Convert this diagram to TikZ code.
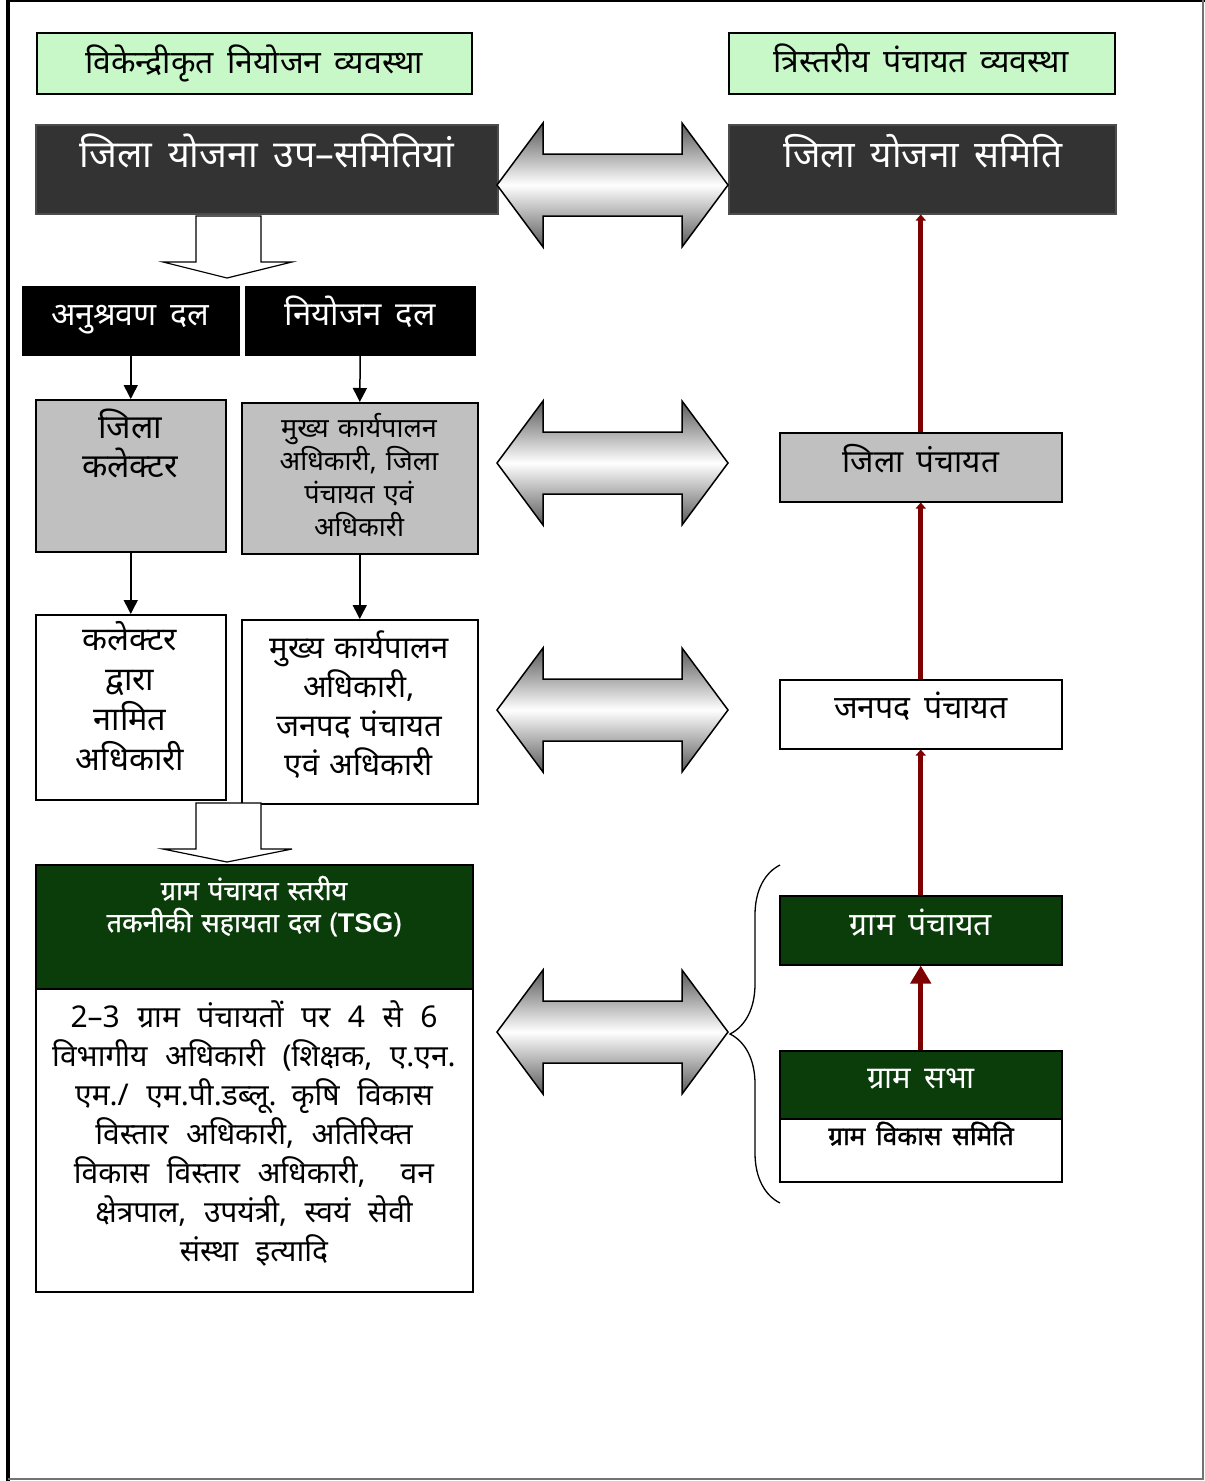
\documentclass[tikz,border=0pt]{standalone}
\usepackage{fontspec}
\setmainfont[Script=Devanagari,WordSpace=1.6]{Noto Sans}
\newfontfamily\devabold[Script=Devanagari,WordSpace=1.6,FakeBold=1.5]{Noto Sans}
\newfontfamily\devasemi[Script=Devanagari,WordSpace=1.6,FakeBold=0.8]{Noto Sans}
\newfontfamily\latinb{Liberation Sans}
\usetikzlibrary{arrows.meta,decorations.pathreplacing}
\definecolor{lgreen}{HTML}{C8F7C8}
\definecolor{dkgray}{HTML}{333333}
\definecolor{mgray}{HTML}{C0C0C0}
\definecolor{dgreen}{HTML}{0B3D0B}
\definecolor{dred}{HTML}{7F0000}
\newcommand\fsz[2]{\fontsize{#1}{#2}\selectfont}
\begin{document}
\begin{tikzpicture}[x=1pt,y=-1pt,
  box/.style={draw=black,line width=1.5pt,inner sep=0pt,anchor=north west},
  txt/.style={anchor=base,inner sep=0pt,align=center},
  mtxt/.style={anchor=base,inner sep=0pt,align=center,text width=#1},
  blk/.style={line width=1.5pt,-{Triangle[width=14pt,length=14pt]}},
  redarr/.style={dred,line width=5pt,-{Triangle[width=20pt,length=18pt]}},
  redfaint/.style={dred,line width=5pt,-{Triangle[width=10pt,length=6pt]}},
  dbl/.style={draw=black,line width=1.5pt,top color=black!65,bottom color=black!65,middle color=white},
  blockarr/.style={draw=black,line width=1.2pt,fill=white}]
\useasboundingbox (0,0) rectangle (1205,1481);
% page frame
\draw[line width=4pt] (8,0) -- (8,1481);
\draw[line width=1.5pt] (8,1) -- (1205,1);
\draw[black!55,line width=2pt] (1203,0) -- (1203,1479) -- (8,1479);

% headings
\node[box,fill=lgreen,minimum width=435pt,minimum height=61pt] (t1) at (36,32) {};
\node[txt,font=\fsz{32}{32}] (t1t) at (254,73) {विकेन्द्रीकृत नियोजन व्यवस्था};
\node[box,fill=lgreen,minimum width=386pt,minimum height=61pt] (t2) at (728,32) {};
\node[txt,font=\fsz{32}{32}] (t2t) at (921,72) {त्रिस्तरीय पंचायत व्यवस्था};

% dark boxes
\node[box,draw=black!70,fill=dkgray,minimum width=462pt,minimum height=89pt] (d1) at (35,124) {};
\node[txt,text=white,font=\fsz{37.5}{38}] (d1t) at (267,167) {जिला योजना उप–समितियां};
\node[box,draw=black!70,fill=dkgray,minimum width=387pt,minimum height=89pt] (d2) at (728,124) {};
\node[txt,text=white,font=\fsz{37}{37}] (d2t) at (923,167) {जिला योजना समिति};

% double arrows
\foreach \c/\n in {185/da1,463/da2,710/da3,1032/da4}{
  \shadedraw[dbl] (497,\c) -- (543,\c-62) -- (543,\c-31) -- (682,\c-31) -- (682,\c-62)
     -- (728,\c) -- (682,\c+62) -- (682,\c+31) -- (543,\c+31) -- (543,\c+62) -- cycle;
}

% block arrow 1
\draw[blockarr] (196,216) -- (261,216) -- (261,262) -- (292,262) -- (227,278) -- (163,262) -- (196,262) -- cycle;

% black boxes
\node[box,draw=black,fill=black,minimum width=216pt,minimum height=68pt] (b1) at (22,286) {};
\node[txt,text=white,font=\fsz{32}{32}] (b1t) at (130,325) {अनुश्रवण दल};
\node[box,draw=black,fill=black,minimum width=229pt,minimum height=68pt] (b2) at (245,286) {};
\node[txt,text=white,font=\fsz{33}{33}] (b2t) at (360,325) {नियोजन दल};

% gray boxes
\node[box,fill=mgray,minimum width=190pt,minimum height=152pt] (g1) at (35,399) {};
\node[mtxt=180pt,font=\fsz{33}{39}] (g1t) at (130,438) {जिला\\कलेक्टर};
\node[box,fill=mgray,minimum width=236pt,minimum height=151pt] (g2) at (241,402) {};
\node[mtxt=230pt,font=\fsz{27}{33}] (g2t) at (359,437) {मुख्य कार्यपालन\\अधिकारी, जिला\\पंचायत एवं\\अधिकारी};

% white boxes
\node[box,fill=white,minimum width=190pt,minimum height=185pt] (w1) at (35,614) {};
\node[mtxt=180pt,font=\fsz{32.5}{40}] (w1t) at (130,650) {कलेक्टर\\द्वारा\\नामित\\अधिकारी};
\node[box,fill=white,minimum width=236pt,minimum height=184pt] (w2) at (241,619) {};
\node[mtxt=230pt,font=\fsz{31}{39}] (w2t) at (359,658) {मुख्य कार्यपालन\\अधिकारी,\\जनपद पंचायत\\एवं अधिकारी};

% connectors left
\draw[blk] (b1.south) -- (g1.north);
\draw[blk] (b2.south) -- (g2.north);
\draw[blk] (g1.south) -- (w1.north);
\draw[blk] (g2.south) -- (w2.north);

% block arrow 2
\draw[blockarr] (196,803) -- (261,803) -- (261,849) -- (292,849) -- (227,862) -- (163,849) -- (196,849) -- cycle;

% TSG
\node[box,fill=dgreen,minimum width=437pt,minimum height=124pt] (tsg) at (35,864) {};
\node[mtxt=420pt,text=white,font=\devasemi\fsz{27}{32}] (tsgt) at (254,900) {ग्राम पंचायत स्तरीय\\तकनीकी सहायता दल ({\latinb\bfseries TSG})};
\node[box,fill=white,minimum width=437pt,minimum height=303pt] (tsgb) at (35,988) {};
\node[mtxt=430pt,font=\fsz{30}{39}] (tsgbt) at (254,1027) {\spaceskip=17.5pt\relax 2–3 ग्राम पंचायतों पर 4 से 6\\विभागीय अधिकारी (शिक्षक, ए.एन.\\एम./ एम.पी.डब्लू. कृषि विकास\\विस्तार अधिकारी, अतिरिक्त\\विकास विस्तार अधिकारी,\ \ वन\\क्षेत्रपाल, उपयंत्री, स्वयं सेवी\\संस्था इत्यादि};

% right column
\node[box,fill=mgray,minimum width=282pt,minimum height=69pt] (r1) at (779,432) {};
\node[txt,font=\fsz{31.5}{32}] (r1t) at (921,472) {जिला पंचायत};
\node[box,fill=white,minimum width=282pt,minimum height=69pt] (r2) at (779,679) {};
\node[txt,font=\fsz{32}{32}] (r2t) at (921,718) {जनपद पंचायत};
\node[box,fill=dgreen,minimum width=282pt,minimum height=69pt] (r3) at (779,895) {};
\node[txt,text=white,font=\fsz{32}{32}] (r3t) at (921,935) {ग्राम पंचायत};
\node[box,fill=dgreen,minimum width=282pt,minimum height=68pt] (r4) at (779,1050) {};
\node[txt,text=white,font=\fsz{31}{31}] (r4t) at (921,1088) {ग्राम सभा};
\node[box,fill=white,minimum width=282pt,minimum height=63pt] (r5) at (779,1118) {};
\node[txt,font=\devabold\fsz{26}{26}] (r5t) at (921,1145) {ग्राम विकास समिति};

% red connectors
\draw[redarr] (r4.north) -- (r3.south);
\draw[redfaint] (r3.north) -- (r2.south);
\draw[redfaint] (r2.north) -- (r1.south);
\draw[redfaint] (r1.north) -- (r1.north |- d2.south);

% brace
\draw[line width=1.3pt,decorate,decoration={brace,amplitude=50pt}] (780,1203) -- (780,865);
\end{tikzpicture}
\end{document}
